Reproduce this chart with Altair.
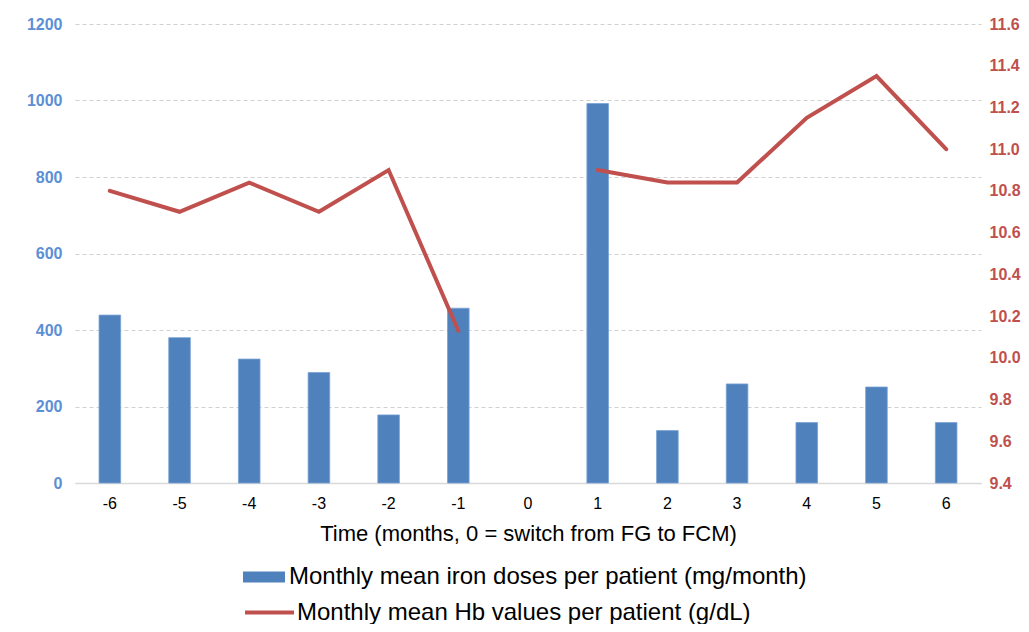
import altair as alt
import pandas as pd

months = ["-6", "-5", "-4", "-3", "-2", "-1", "0", "1", "2", "3", "4", "5", "6"]
iron_doses = [439, 380, 324, 289, 178, 457, None, 992, 137, 259, 158, 251, 158]
hb_values = [10.80, 10.70, 10.84, 10.70, 10.90, 10.13, None, 10.90, 10.84, 10.84, 11.15, 11.35, 11.00]
segments = ["before", "before", "before", "before", "before", "before", "switch",
            "after", "after", "after", "after", "after", "after"]
bar_label = "Monthly mean iron doses per patient (mg/month)"
line_label = "Monthly mean Hb values per patient (g/dL)"
x_title = "Time (months, 0 = switch from FG to FCM)"
left_ticks = [0, 200, 400, 600, 800, 1000, 1200]
right_ticks = [9.4, 9.6, 9.8, 10.0, 10.2, 10.4, 10.6, 10.8, 11.0, 11.2, 11.4, 11.6]

BLUE = "#4f81bd"
RED = "#c0504d"
FONT = "Liberation Sans"

df = pd.DataFrame({
    "month": months,
    "dose": iron_doses,
    "hb": hb_values,
    "segment": segments,
    "s1": bar_label,
    "s2": line_label,
})

x_enc = alt.X(
    "month:O",
    sort=months,
    scale=alt.Scale(domain=months, paddingInner=0.69, paddingOuter=0.345),
    axis=alt.Axis(
        title=x_title, labelAngle=0, ticks=False, domain=True,
        domainColor="#d9d9d9", domainWidth=1.5,
        labelFontSize=16, labelColor="black", labelPadding=12,
        titleFontSize=22, titleColor="black", titleFontWeight="normal",
        titlePadding=12, grid=False,
    ),
)

bars = alt.Chart(df).mark_bar(stroke="#7aa2d4", strokeWidth=0.8).encode(
    x=x_enc,
    y=alt.Y(
        "dose:Q",
        scale=alt.Scale(domain=[0, 1200], nice=False),
        axis=alt.Axis(
            title=None, values=left_ticks, format="d", orient="left",
            domain=False, ticks=False,
            labelFontSize=16, labelFontWeight="bold", labelColor="#5b8fd6",
            labelPadding=13, grid=True, gridDash=[4, 3], gridColor="#d0d0d0",
            gridWidth=1,
        ),
    ),
    fill=alt.Fill(
        "s1:N",
        scale=alt.Scale(range=[BLUE]),
        legend=alt.Legend(
            title=None, orient="none", legendX=168, legendY=532,
            symbolType="M-1,-0.26H1V0.26H-1Z", symbolSize=1764,
            symbolStrokeWidth=0, labelFontSize=24, labelFont=FONT,
            labelColor="black", labelOffset=4, padding=0, labelLimit=0,
        ),
    ),
)

line = alt.Chart(df).transform_filter("datum.hb != null").mark_line(
    strokeWidth=4, strokeCap="round", strokeJoin="miter"
).encode(
    x=x_enc,
    y=alt.Y(
        "hb:Q",
        scale=alt.Scale(domain=[9.4, 11.6], nice=False, zero=False),
        axis=alt.Axis(
            title=None, values=right_ticks, format=".1f", orient="right",
            domain=False, ticks=False, grid=False,
            labelFontSize=16, labelFontWeight="bold", labelColor=RED,
            labelPadding=8,
        ),
    ),
    detail="segment:N",
    stroke=alt.Stroke(
        "s2:N",
        scale=alt.Scale(range=[RED]),
        legend=alt.Legend(
            title=None, orient="none", legendX=168, legendY=562,
            symbolType="stroke", symbolSize=2401, symbolStrokeWidth=4,
            labelFontSize=24, labelFont=FONT, labelColor="black",
            labelOffset=1, padding=0, labelLimit=0,
        ),
    ),
)

chart = alt.layer(bars, line).resolve_scale(
    y="independent", fill="independent", stroke="independent"
).properties(
    width=906,
    height=459,
    padding={"left": 67, "top": 16, "right": 40, "bottom": 141},
    autosize=alt.AutoSizeParams(type="none"),
).configure_view(stroke=None).configure_axis(
    labelFont=FONT, titleFont=FONT
).configure_legend(labelFont=FONT)

chart.save("out.html", embed_options={"renderer": "svg", "actions": False})
